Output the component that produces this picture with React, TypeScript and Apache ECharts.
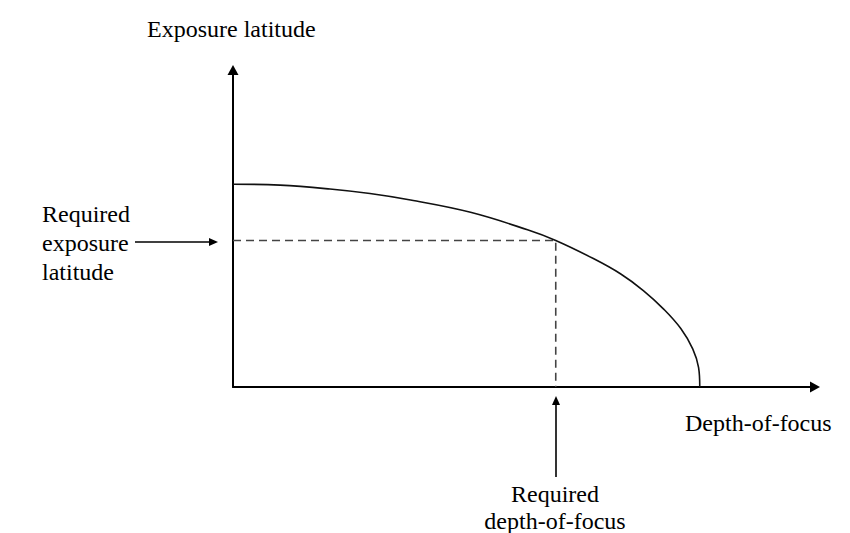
import React, { useEffect, useRef } from "react";
import * as echarts from "echarts";

// Curve (arbitrary units: x 0..99, y 0..98)
const curveX = [0, 8.0, 16.5, 23.3, 30.2, 40.4, 50.1, 54.9, 61.3, 65.9, 69.8, 73.3, 76.2, 78.2, 79.2, 79.4];
const curveY = [62.7, 62.4, 61.2, 59.8, 57.8, 54.0, 48.6, 45.3, 39.7, 35.0, 29.8, 24.0, 18.0, 11.8, 6.0, 0];
const requiredDof = 54.9;
const requiredLatitude = 45.3;

const axisTitles = { y: "Exposure latitude", x: "Depth-of-focus" };
const annotationTexts = {
  latitude: "Required\nexposure\nlatitude",
  dof: "Required\ndepth-of-focus",
};

const FONT = "Liberation Serif";

export default function App() {
  const ref = useRef<HTMLDivElement>(null);
  useEffect(() => {
    const chart = echarts.init(ref.current!, null, { renderer: "svg" });
    const textStyle = (t: string, extra: any = {}) => ({
      text: t,
      fontFamily: FONT,
      fontSize: 24,
      fill: "#000",
      ...extra,
    });
    chart.setOption({
      animation: false,
      grid: { left: 233, right: 35, top: 70, bottom: 146 },
      xAxis: {
        type: "value",
        min: 0,
        max: 99,
        axisLine: {
          show: true,
          symbol: ["none", "triangle"],
          symbolSize: [11, 10],
          lineStyle: { color: "#000", width: 2 },
        },
        axisTick: { show: false },
        axisLabel: { show: false },
        splitLine: { show: false },
      },
      yAxis: {
        type: "value",
        min: 0,
        max: 98,
        axisLine: {
          show: true,
          symbol: ["none", "triangle"],
          symbolSize: [11, 10],
          lineStyle: { color: "#000", width: 2 },
        },
        axisTick: { show: false },
        axisLabel: { show: false },
        splitLine: { show: false },
      },
      series: [
        {
          type: "line",
          data: curveX.map((x, i) => [x, curveY[i]]),
          smooth: 0.4,
          showSymbol: false,
          lineStyle: { color: "#111", width: 1.6 },
          z: 3,
        },
        {
          type: "line",
          data: [
            [0, requiredLatitude],
            [requiredDof, requiredLatitude],
            [requiredDof, 0],
          ],
          showSymbol: false,
          lineStyle: { color: "#444", width: 1.6, type: [8, 5] },
          z: 2,
        },
      ],
      graphic: [
        { type: "text", left: 147, top: 17, style: textStyle(axisTitles.y) },
        { type: "text", left: 685, top: 411, style: textStyle(axisTitles.x) },
        {
          type: "text",
          left: 42,
          top: 199,
          style: textStyle(annotationTexts.latitude, { lineHeight: 29 }),
        },
        {
          type: "text",
          x: 555,
          y: 480,
          style: textStyle(annotationTexts.dof, { lineHeight: 27, align: "center", verticalAlign: "top" }),
        },
        {
          type: "line",
          shape: { x1: 135, y1: 242, x2: 210, y2: 242 },
          style: { stroke: "#000", lineWidth: 1.6 },
        },
        {
          type: "polygon",
          shape: { points: [[218, 242], [209, 238], [209, 246]] },
          style: { fill: "#000" },
        },
        {
          type: "line",
          shape: { x1: 556, y1: 477, x2: 556, y2: 404 },
          style: { stroke: "#000", lineWidth: 1.6 },
        },
        {
          type: "polygon",
          shape: { points: [[556, 396], [552, 405], [560, 405]] },
          style: { fill: "#000" },
        },
      ],
    });
    return () => chart.dispose();
  }, []);
  return <div ref={ref} style={{ width: 850, height: 533, position: "absolute", left: 0, top: 0 }} />;
}
